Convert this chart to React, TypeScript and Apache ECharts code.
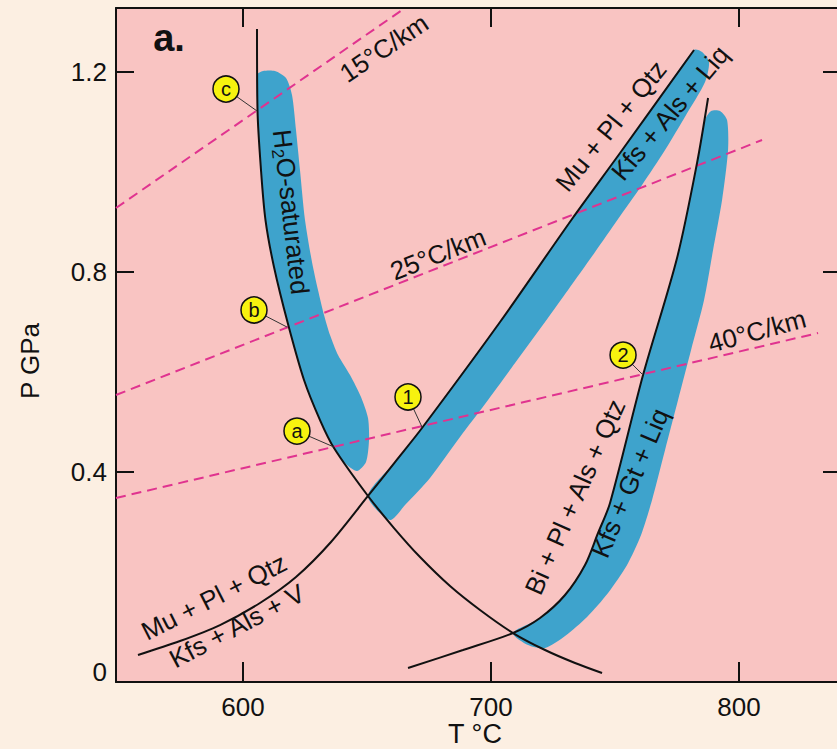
import React, { useEffect, useRef } from "react";
import * as echarts from "echarts";

// ---- axis ranges & ticks ----
const T_RANGE = [548.8, 841.1];
const P_RANGE = [-0.0208, 1.3279];
const T_TICKS = [600, 700, 800];
const P_TICKS = [0.4, 0.8, 1.2];
const P_LABELS = [0, 0.4, 0.8, 1.2];

// ---- reaction curves [T °C, P GPa] ----
const h2oSaturatedSolidus = [
  [605.65, 1.2858], [605.85, 1.1237], [607.26, 1.0036], [609.07, 0.9036], [612.5, 0.8096],
  [618.15, 0.6955], [624.6, 0.5835], [631.05, 0.5034], [636.69, 0.4474], [650.4, 0.3514],
  [660.89, 0.2873], [671.37, 0.2293], [683.47, 0.1713], [695.56, 0.1233], [708.87, 0.0772],
  [721.77, 0.0432], [733.87, 0.0172], [744.76, -0.0028],
];
const muscoviteMelting = [
  [557.66, 0.0332], [574.6, 0.0612], [590.73, 0.0932], [606.85, 0.1373], [621.37, 0.1893],
  [635.48, 0.2593], [650.4, 0.3514], [661.29, 0.4194], [672.18, 0.4875], [703.63, 0.6996],
  [732.66, 0.9057], [752.02, 1.0377], [781.85, 1.2438],
];
const biotiteMelting = [
  [666.53, 0.0072], [688.71, 0.0432], [708.87, 0.0772], [719.76, 0.1073], [729.84, 0.1533],
  [737.9, 0.2133], [743.15, 0.2774], [747.98, 0.3374], [761.29, 0.5935], [775.0, 0.8277],
  [783.06, 1.0178], [787.5, 1.1478],
];

// ---- melting fields (blue bands), outlines [T, P] ----
const bandH2O = [
  [605.65, 1.1938], [605.85, 1.1237], [607.26, 1.0036], [609.07, 0.9036], [612.5, 0.8096],
  [618.15, 0.6955], [624.6, 0.5835], [631.05, 0.5034], [636.69, 0.4474], [641.53, 0.4154],
  [645.97, 0.4014], [649.6, 0.4194], [650.81, 0.4634], [650.4, 0.5075], [647.58, 0.5495],
  [643.15, 0.5935], [638.31, 0.6335], [635.08, 0.6735], [632.66, 0.7136], [630.24, 0.7636],
  [627.82, 0.8196], [625.0, 0.9037], [622.98, 1.0037], [621.37, 1.0837], [619.76, 1.1538],
  [617.34, 1.1878], [612.9, 1.2018], [608.06, 1.2018],
];
const bandMuscovite = [
  [650.4, 0.3514], [661.29, 0.4194], [672.18, 0.4874], [687.5, 0.5915], [703.63, 0.6995],
  [717.74, 0.7996], [732.66, 0.9057], [752.02, 1.0377], [768.15, 1.1498], [781.85, 1.2438],
  [785.08, 1.2398], [787.9, 1.2198], [786.29, 1.1798], [778.63, 1.1138], [770.16, 1.0437],
  [760.89, 0.9737], [751.21, 0.9057], [741.94, 0.8396], [731.05, 0.7636], [721.77, 0.6995],
  [709.68, 0.6175], [697.58, 0.5355], [687.5, 0.4694], [675.4, 0.3874], [665.32, 0.3334],
  [659.27, 0.3034],
];
const bandBiotite = [
  [708.87, 0.0772], [719.76, 0.1073], [729.84, 0.1533], [737.9, 0.2133], [743.15, 0.2773],
  [747.98, 0.3374], [761.29, 0.5935], [775.0, 0.8276], [783.06, 1.0177], [786.29, 1.1038],
  [788.71, 1.1218], [792.34, 1.1218], [795.16, 1.1038], [795.56, 1.0437], [793.15, 0.9437],
  [789.52, 0.8436], [785.89, 0.7436], [780.65, 0.6435], [775.4, 0.5435], [770.16, 0.4434],
  [764.92, 0.3434], [760.48, 0.2733], [754.84, 0.2133], [747.18, 0.1573], [738.71, 0.1093],
  [729.84, 0.0712], [721.77, 0.0472], [714.92, 0.0532],
];

// ---- geotherms ----
const geotherm15 = [[548.79, 0.9277], [665.32, 1.3279]];
const geotherm25 = [[548.79, 0.5535], [809.27, 1.0637]];
const geotherm40 = [[548.79, 0.3474], [831.85, 0.6775]];

// ---- numbered markers ----
const markerLabels = ["c", "b", "a", "1", "2"];
const markerPoints = [[593.15, 1.1658], [604.44, 0.7236], [621.77, 0.4814], [666.53, 0.5495], [753.23, 0.6335]];
const markerTargets = [[605.65, 1.1218], [617.74, 0.6895], [636.69, 0.4494], [672.18, 0.4894], [761.29, 0.5935]];

const BLUE = "#3ea3cc";
const PINK = "#f9c4c2";
const CREAM = "#fcefe2";
const MAGENTA = "#e0338f";
const INK = "#111111";
const FONT = "'Liberation Sans', Arial, Helvetica, sans-serif";

const deg = (d: number) => (d * Math.PI) / 180;

function bandSeries(name: string, pts: number[][]) {
  return {
    type: "custom",
    name,
    coordinateSystem: "cartesian2d",
    xAxisIndex: 0,
    yAxisIndex: 0,
    z: 1,
    silent: true,
    clip: true,
    data: [[pts[0][0], pts[0][1]]],
    renderItem: (_params: any, api: any) => ({
      type: "polygon",
      shape: { points: pts.map((p) => api.coord(p)), smooth: 0.25 },
      style: { fill: BLUE },
    }),
  };
}

function curveSeries(name: string, pts: number[][]) {
  return {
    type: "line",
    name,
    data: pts,
    xAxisIndex: 0,
    yAxisIndex: 0,
    showSymbol: false,
    symbol: "none",
    smooth: 0.3,
    z: 4,
    silent: true,
    lineStyle: { color: INK, width: 2 },
  };
}

function geothermSeries(name: string, pts: number[][]) {
  return {
    type: "line",
    name,
    data: pts,
    xAxisIndex: 0,
    yAxisIndex: 0,
    showSymbol: false,
    symbol: "none",
    z: 3,
    silent: true,
    lineStyle: { color: MAGENTA, width: 2, type: [10, 6] },
  };
}

function label(text: string, x: number, y: number, rotDeg: number, size = 26, extra: any = {}) {
  return {
    type: "text",
    x,
    y,
    rotation: deg(rotDeg),
    z: 100,
    silent: true,
    style: {
      text,
      fill: INK,
      fontSize: size,
      fontFamily: FONT,
      align: "center",
      verticalAlign: "middle",
      textAlign: "center",
      textVerticalAlign: "middle",
      ...extra,
    },
  };
}

export default function App() {
  const ref = useRef<HTMLDivElement>(null);

  useEffect(() => {
    const chart = echarts.init(ref.current!, undefined, { renderer: "svg" });

    const leaderSeries = markerPoints.map((p, i) => ({
      type: "line",
      name: "leader-" + markerLabels[i],
      data: [p, markerTargets[i]],
      xAxisIndex: 0,
      yAxisIndex: 0,
      showSymbol: false,
      symbol: "none",
      z: 5,
      silent: true,
      lineStyle: { color: "#333333", width: 1 },
    }));

    const option: any = {
      animation: false,
      backgroundColor: CREAM,
      grid: {
        left: 116,
        right: 0,
        top: 8,
        bottom: 67,
        show: true,
        backgroundColor: PINK,
        borderWidth: 0,
      },
      xAxis: [
        {
          type: "value",
          position: "bottom",
          min: T_RANGE[0],
          max: T_RANGE[1],
          axisLine: { show: true, onZero: false, lineStyle: { color: INK, width: 2 } },
          axisTick: { show: true, inside: true, length: 20, customValues: T_TICKS, lineStyle: { color: INK, width: 2 } },
          axisLabel: { customValues: T_TICKS, color: INK, fontSize: 26, fontFamily: FONT, margin: 12 },
          splitLine: { show: false },
        },
        {
          type: "value",
          position: "top",
          min: T_RANGE[0],
          max: T_RANGE[1],
          axisLine: { show: true, onZero: false, lineStyle: { color: INK, width: 2 } },
          axisTick: { show: true, inside: true, length: 19, customValues: T_TICKS, lineStyle: { color: INK, width: 2 } },
          axisLabel: { show: false },
          splitLine: { show: false },
        },
      ],
      yAxis: [
        {
          type: "value",
          position: "left",
          min: P_RANGE[0],
          max: P_RANGE[1],
          axisLine: { show: true, onZero: false, lineStyle: { color: INK, width: 2 } },
          axisTick: { show: true, inside: true, length: 18, customValues: P_TICKS, lineStyle: { color: INK, width: 2 } },
          axisLabel: {
            customValues: P_LABELS,
            color: INK,
            fontSize: 26,
            fontFamily: FONT,
            margin: 9,
            formatter: (v: number) => (v === 0 ? "0" : String(v)),
          },
          splitLine: { show: false },
        },
        {
          type: "value",
          position: "right",
          min: P_RANGE[0],
          max: P_RANGE[1],
          axisLine: { show: true, onZero: false, lineStyle: { color: INK, width: 2 } },
          axisTick: { show: true, inside: true, length: 18, customValues: P_TICKS, lineStyle: { color: INK, width: 2 } },
          axisLabel: { show: false },
          splitLine: { show: false },
        },
      ],
      series: [
        bandSeries("band-h2o", bandH2O),
        bandSeries("band-mu", bandMuscovite),
        bandSeries("band-bi", bandBiotite),
        geothermSeries("15°C/km", geotherm15),
        geothermSeries("25°C/km", geotherm25),
        geothermSeries("40°C/km", geotherm40),
        curveSeries("H2O-saturated solidus", h2oSaturatedSolidus),
        curveSeries("Mu + Pl + Qtz = Kfs + Als + V/Liq", muscoviteMelting),
        curveSeries("Bi + Pl + Als + Qtz = Kfs + Gt + Liq", biotiteMelting),
        ...leaderSeries,
        {
          type: "scatter",
          name: "markers",
          xAxisIndex: 0,
          yAxisIndex: 0,
          z: 6,
          silent: true,
          symbol: "circle",
          symbolSize: 26,
          itemStyle: { color: "#f7f20f", borderColor: INK, borderWidth: 1.5, opacity: 1 },
          label: {
            show: true,
            position: "inside",
            color: INK,
            fontSize: 20,
            fontFamily: FONT,
            formatter: (p: any) => p.value[2],
          },
          data: markerPoints.map((p, i) => [p[0], p[1], markerLabels[i]]),
        },
      ],
      graphic: [
        label("a.", 169, 38, 0, 38, { fontWeight: "bold" }),
        label("P GPa", 30, 361, 90, 26),
        label("T °C", 475, 734, 0, 27),
        label("15°C/km", 384, 48, 34),
        label("25°C/km", 438, 254, 21.5),
        label("40°C/km", 757, 331, 15),
        {
          type: "text",
          x: 291,
          y: 212,
          rotation: deg(-83.5),
          z: 100,
          silent: true,
          style: {
            text: "H{sub|2}O-saturated",
            fill: INK,
            fontSize: 26,
            fontFamily: FONT,
            lineHeight: 30,
            align: "center",
            verticalAlign: "middle",
            textAlign: "center",
            textVerticalAlign: "middle",
            rich: {
              sub: { fontSize: 17, fontFamily: FONT, fill: INK, color: INK, verticalAlign: "bottom", lineHeight: 17 },
            },
          },
        },
        label("Mu + Pl + Qtz", 611, 126, 51),
        label("Kfs + Als + Liq", 670, 113, 50),
        label("Mu + Pl + Qtz", 214, 597, 27),
        label("Kfs + Als + V", 237, 626, 28),
        label("Bi + Pl + Als + Qtz", 575, 497, 66),
        label("Kfs + Gt + Liq", 630, 483, 67),
      ],
    };

    chart.setOption(option);
    return () => chart.dispose();
  }, []);

  return (
    <div style={{ position: "absolute", left: 0, top: 0, width: 837, height: 749, overflow: "hidden" }}>
      <div ref={ref} style={{ width: 841, height: 749 }} />
    </div>
  );
}
